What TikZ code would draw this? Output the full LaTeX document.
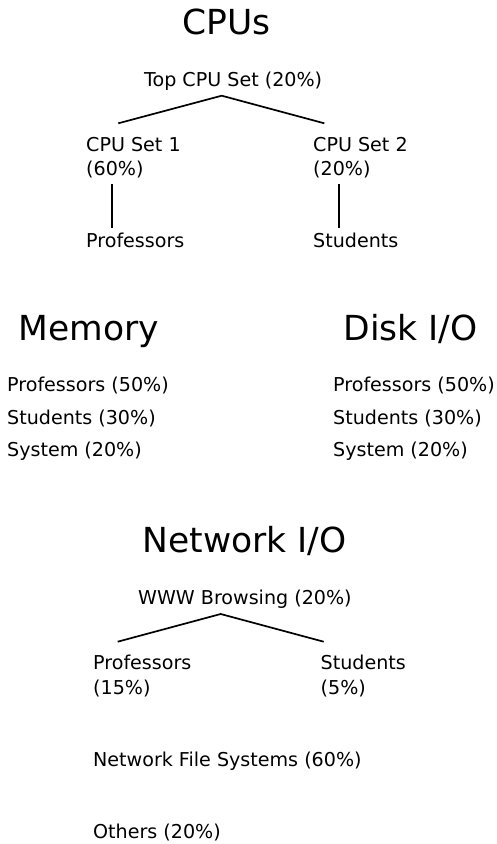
\documentclass[tikz,border=0pt]{standalone}
\usepackage{fontspec}
\setmainfont{DejaVu Sans}
\begin{document}
\begin{tikzpicture}[x=1pt,y=-1pt,
  txt/.style={anchor=base west,inner sep=0pt,font=\fontsize{19.1}{24.5}\selectfont,align=left},
  ttl/.style={anchor=base west,inner sep=0pt,font=\fontsize{34.5}{38}\selectfont},
  edge/.style={line width=1.7pt}]
\useasboundingbox (0,0) rectangle (496,844);
% CPUs
\node[ttl] (cpus) at (182.5,34.5) {CPUs};
\node[txt] (top) at (144,86) {Top CPU Set (20\%)};
\coordinate (apex1) at (221.7,95.7);
\node[txt] (set1) at (86,175.5) {CPU Set 1\\(60\%)};
\node[txt] (set2) at (313,175.5) {CPU Set 2\\(20\%)};
\coordinate (l1) at (118.3,123.3);
\coordinate (r1) at (324.3,123.3);
\draw[edge] (l1) -- (apex1) -- (r1);
\node[txt] (prof1) at (86,247) {Professors};
\node[txt] (stud1) at (313,247) {Students};
\coordinate (v1a) at (112.3,184);
\coordinate (v1b) at (112.3,227.7);
\coordinate (v2a) at (339.3,184);
\coordinate (v2b) at (339.3,227.7);
\draw[edge] (v1a) -- (v1b);
\draw[edge] (v2a) -- (v2b);
% Memory
\node[ttl] (mem) at (18.5,340.7) {Memory};
\node[txt] (mp) at (7,391.7) {Professors (50\%)};
\node[txt] (ms) at (7,424) {Students (30\%)};
\node[txt] (my) at (7,456.7) {System (20\%)};
% Disk
\node[ttl] (disk) at (343.5,340.7) {Disk I/O};
\node[txt] (dp) at (333,391.7) {Professors (50\%)};
\node[txt] (ds) at (333,424) {Students (30\%)};
\node[txt] (dy) at (333,456.7) {System (20\%)};
% Network
\node[ttl] (net) at (142.5,552.3) {Network I/O};
\node[txt] (www) at (138,604) {WWW Browsing (20\%)};
\coordinate (apex2) at (220.7,614);
\coordinate (l2) at (117.7,641.7);
\coordinate (r2) at (323.7,641.7);
\draw[edge] (l2) -- (apex2) -- (r2);
\node[txt] (np) at (93,694) {Professors\\(15\%)};
\node[txt] (ns) at (320.5,694) {Students\\(5\%)};
\node[txt] (nfs) at (93,766) {Network File Systems (60\%)};
\node[txt] (oth) at (93,838.3) {Others (20\%)};
\end{tikzpicture}
\end{document}
